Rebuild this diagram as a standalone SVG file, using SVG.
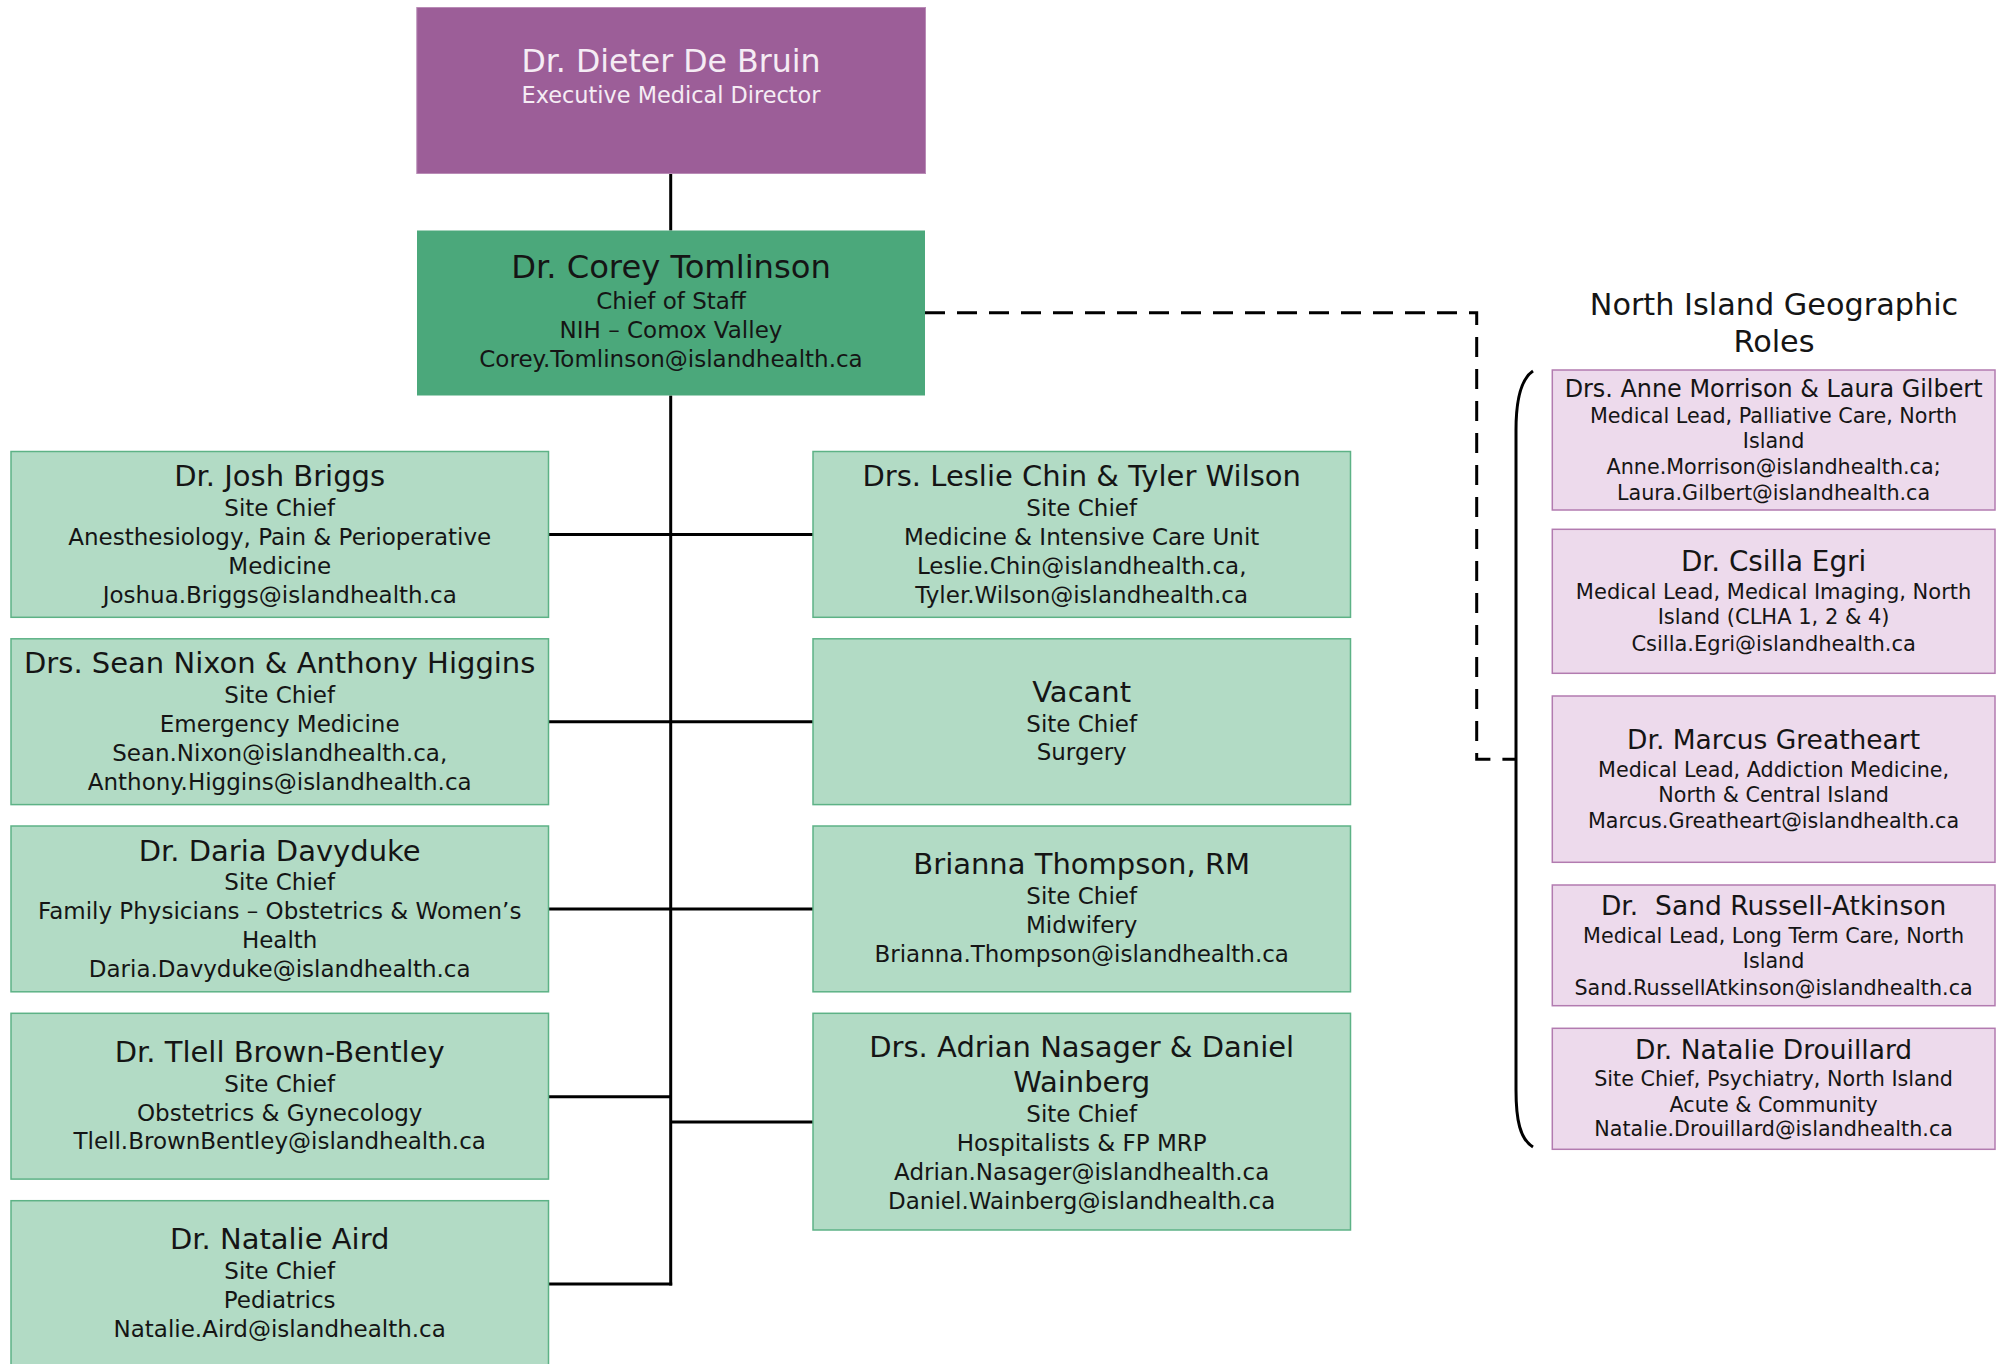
<svg xmlns="http://www.w3.org/2000/svg" width="2010" height="1364" viewBox="0 0 2010 1364">
<style>
text{font-family:"DejaVu Sans","Liberation Sans",sans-serif;text-anchor:middle;fill:#151515}
.nm{font-size:29px}
.bd{font-size:23px}
.pn{font-size:26.5px}
.pb{font-size:20.7px}
.lg{fill:#B2DBC5;stroke:#5DB286;stroke-width:1.5}
.pk{fill:#EDDAEC;stroke:#B27BB0;stroke-width:1.5}
.ln{stroke:#000;stroke-width:3;fill:none}
.wt{fill:#F5ECF4}
</style>
<rect width="2010" height="1364" fill="#fff"/>
<g id="connectors">
<line class="ln" x1="670.7" y1="173.5" x2="670.7" y2="230.5" stroke-width="2.5"/>
<line class="ln" x1="670.7" y1="395.5" x2="670.7" y2="1285.5"/>
<line class="ln" x1="548.5" y1="534.5" x2="670.7" y2="534.5"/>
<line class="ln" x1="548.5" y1="721.7" x2="670.7" y2="721.7"/>
<line class="ln" x1="548.5" y1="909" x2="670.7" y2="909"/>
<line class="ln" x1="548.5" y1="1096.7" x2="670.7" y2="1096.7"/>
<line class="ln" x1="548.5" y1="1284" x2="672.2" y2="1284"/>
<line class="ln" x1="670.7" y1="534.5" x2="813" y2="534.5"/>
<line class="ln" x1="670.7" y1="721.7" x2="813" y2="721.7"/>
<line class="ln" x1="670.7" y1="909" x2="813" y2="909"/>
<line class="ln" x1="670.7" y1="1122" x2="813" y2="1122"/>
<path class="ln" d="M925,312.7 H1476.7 V759.3 H1516" stroke-dasharray="20 12"/>
<path class="ln" d="M1533,371 C1521,379 1516,398 1516,430 L1516,1090 C1516,1120 1520,1139 1533,1147" stroke-width="2.5"/>
</g>
<g id="executive">
<rect x="416.8" y="7.5" width="508.7" height="166" fill="#9C5E98" stroke="#B98BB6" stroke-width="1"/>
<text class="wt" x="671" y="71.7" style="font-size:31.6px">Dr. Dieter De Bruin</text>
<text class="wt" x="671" y="102.7" style="font-size:22.4px">Executive Medical Director</text>
</g>
<g id="chief-of-staff">
<rect x="417" y="230.5" width="508" height="165" fill="#4BA87B"/>
<text x="671" y="278.3" style="font-size:32.2px">Dr. Corey Tomlinson</text>
<text class="bd" x="671" y="309.3">Chief of Staff</text>
<text class="bd" x="671" y="338.3">NIH – Comox Valley</text>
<text class="bd" x="671" y="367.3">Corey.Tomlinson@islandhealth.ca</text>
</g>
<g id="briggs">
<rect class="lg" x="11" y="451.5" width="537.5" height="165.8"/>
<text class="nm" x="279.7" y="485.7">Dr. Josh Briggs</text>
<text class="bd" x="279.7" y="516">Site Chief</text>
<text class="bd" x="279.7" y="545">Anesthesiology, Pain &amp; Perioperative</text>
<text class="bd" x="279.7" y="574">Medicine</text>
<text class="bd" x="279.7" y="603">Joshua.Briggs@islandhealth.ca</text>
</g>
<g id="nixon-higgins">
<rect class="lg" x="11" y="638.8" width="537.5" height="165.8"/>
<text class="nm" x="279.7" y="672.5">Drs. Sean Nixon &amp; Anthony Higgins</text>
<text class="bd" x="279.7" y="703.3">Site Chief</text>
<text class="bd" x="279.7" y="732.3">Emergency Medicine</text>
<text class="bd" x="279.7" y="761">Sean.Nixon@islandhealth.ca,</text>
<text class="bd" x="279.7" y="790">Anthony.Higgins@islandhealth.ca</text>
</g>
<g id="davyduke">
<rect class="lg" x="11" y="826" width="537.5" height="165.8"/>
<text class="nm" x="279.7" y="860.7">Dr. Daria Davyduke</text>
<text class="bd" x="279.7" y="890">Site Chief</text>
<text class="bd" x="279.7" y="919">Family Physicians – Obstetrics &amp; Women’s</text>
<text class="bd" x="279.7" y="948.3">Health</text>
<text class="bd" x="279.7" y="976.7">Daria.Davyduke@islandhealth.ca</text>
</g>
<g id="brown-bentley">
<rect class="lg" x="11" y="1013.3" width="537.5" height="165.8"/>
<text class="nm" x="279.7" y="1061.7">Dr. Tlell Brown-Bentley</text>
<text class="bd" x="279.7" y="1091.7">Site Chief</text>
<text class="bd" x="279.7" y="1120.7">Obstetrics &amp; Gynecology</text>
<text class="bd" x="279.7" y="1149.3">Tlell.BrownBentley@islandhealth.ca</text>
</g>
<g id="aird">
<rect class="lg" x="11" y="1200.7" width="537.5" height="170"/>
<text class="nm" x="279.7" y="1249.3">Dr. Natalie Aird</text>
<text class="bd" x="279.7" y="1279.3">Site Chief</text>
<text class="bd" x="279.7" y="1308.3">Pediatrics</text>
<text class="bd" x="279.7" y="1337.3">Natalie.Aird@islandhealth.ca</text>
</g>
<g id="chin-wilson">
<rect class="lg" x="813" y="451.5" width="537.5" height="165.8"/>
<text class="nm" x="1081.7" y="485.7">Drs. Leslie Chin &amp; Tyler Wilson</text>
<text class="bd" x="1081.7" y="516">Site Chief</text>
<text class="bd" x="1081.7" y="545">Medicine &amp; Intensive Care Unit</text>
<text class="bd" x="1081.7" y="574">Leslie.Chin@islandhealth.ca,</text>
<text class="bd" x="1081.7" y="603">Tyler.Wilson@islandhealth.ca</text>
</g>
<g id="vacant">
<rect class="lg" x="813" y="638.8" width="537.5" height="165.8"/>
<text class="nm" x="1081.7" y="701.7">Vacant</text>
<text class="bd" x="1081.7" y="731.7">Site Chief</text>
<text class="bd" x="1081.7" y="760">Surgery</text>
</g>
<g id="thompson">
<rect class="lg" x="813" y="826" width="537.5" height="165.8"/>
<text class="nm" x="1081.7" y="874">Brianna Thompson, RM</text>
<text class="bd" x="1081.7" y="904">Site Chief</text>
<text class="bd" x="1081.7" y="933.3">Midwifery</text>
<text class="bd" x="1081.7" y="961.7">Brianna.Thompson@islandhealth.ca</text>
</g>
<g id="nasager-wainberg">
<rect class="lg" x="813" y="1013.3" width="537.5" height="216.7"/>
<text class="nm" x="1081.7" y="1057">Drs. Adrian Nasager &amp; Daniel</text>
<text class="nm" x="1081.7" y="1092">Wainberg</text>
<text class="bd" x="1081.7" y="1122">Site Chief</text>
<text class="bd" x="1081.7" y="1151">Hospitalists &amp; FP MRP</text>
<text class="bd" x="1081.7" y="1180">Adrian.Nasager@islandhealth.ca</text>
<text class="bd" x="1081.7" y="1208.5">Daniel.Wainberg@islandhealth.ca</text>
</g>
<g id="north-island-title">
<text x="1774" y="315" style="font-size:30.3px">North Island Geographic</text>
<text x="1774" y="351.7" style="font-size:30.3px">Roles</text>
</g>
<g id="morrison-gilbert">
<rect class="pk" x="1552.3" y="370" width="442.7" height="140"/>
<text x="1773.6" y="396.7" style="font-size:23.9px">Drs. Anne Morrison &amp; Laura Gilbert</text>
<text class="pb" x="1773.6" y="423">Medical Lead, Palliative Care, North</text>
<text class="pb" x="1773.6" y="448.3">Island</text>
<text class="pb" x="1773.6" y="474.3">Anne.Morrison@islandhealth.ca;</text>
<text class="pb" x="1773.6" y="500">Laura.Gilbert@islandhealth.ca</text>
</g>
<g id="egri">
<rect class="pk" x="1552.3" y="529.3" width="442.7" height="144"/>
<text x="1773.6" y="570.7" style="font-size:27.8px">Dr. Csilla Egri</text>
<text x="1773.6" y="599.3" style="font-size:21px">Medical Lead, Medical Imaging, North</text>
<text x="1773.6" y="624" style="font-size:21px">Island (CLHA 1, 2 &amp; 4)</text>
<text x="1773.6" y="650.7" style="font-size:21px">Csilla.Egri@islandhealth.ca</text>
</g>
<g id="greatheart">
<rect class="pk" x="1552.3" y="696" width="442.7" height="166.3"/>
<text class="pn" x="1773.6" y="749">Dr. Marcus Greatheart</text>
<text class="pb" x="1773.6" y="776.7">Medical Lead, Addiction Medicine,</text>
<text class="pb" x="1773.6" y="802.3">North &amp; Central Island</text>
<text class="pb" x="1773.6" y="827.7">Marcus.Greatheart@islandhealth.ca</text>
</g>
<g id="russell-atkinson">
<rect class="pk" x="1552.3" y="885" width="442.7" height="120.7"/>
<text class="pn" x="1773.6" y="915" xml:space="preserve">Dr.  Sand Russell-Atkinson</text>
<text class="pb" x="1773.6" y="943.3">Medical Lead, Long Term Care, North</text>
<text class="pb" x="1773.6" y="968.3">Island</text>
<text class="pb" x="1773.6" y="995">Sand.RussellAtkinson@islandhealth.ca</text>
</g>
<g id="drouillard">
<rect class="pk" x="1552.3" y="1028.3" width="442.7" height="121"/>
<text class="pn" x="1773.6" y="1059">Dr. Natalie Drouillard</text>
<text class="pb" x="1773.6" y="1086">Site Chief, Psychiatry, North Island</text>
<text class="pb" x="1773.6" y="1111.5">Acute &amp; Community</text>
<text class="pb" x="1773.6" y="1136.3">Natalie.Drouillard@islandhealth.ca</text>
</g>
</svg>
